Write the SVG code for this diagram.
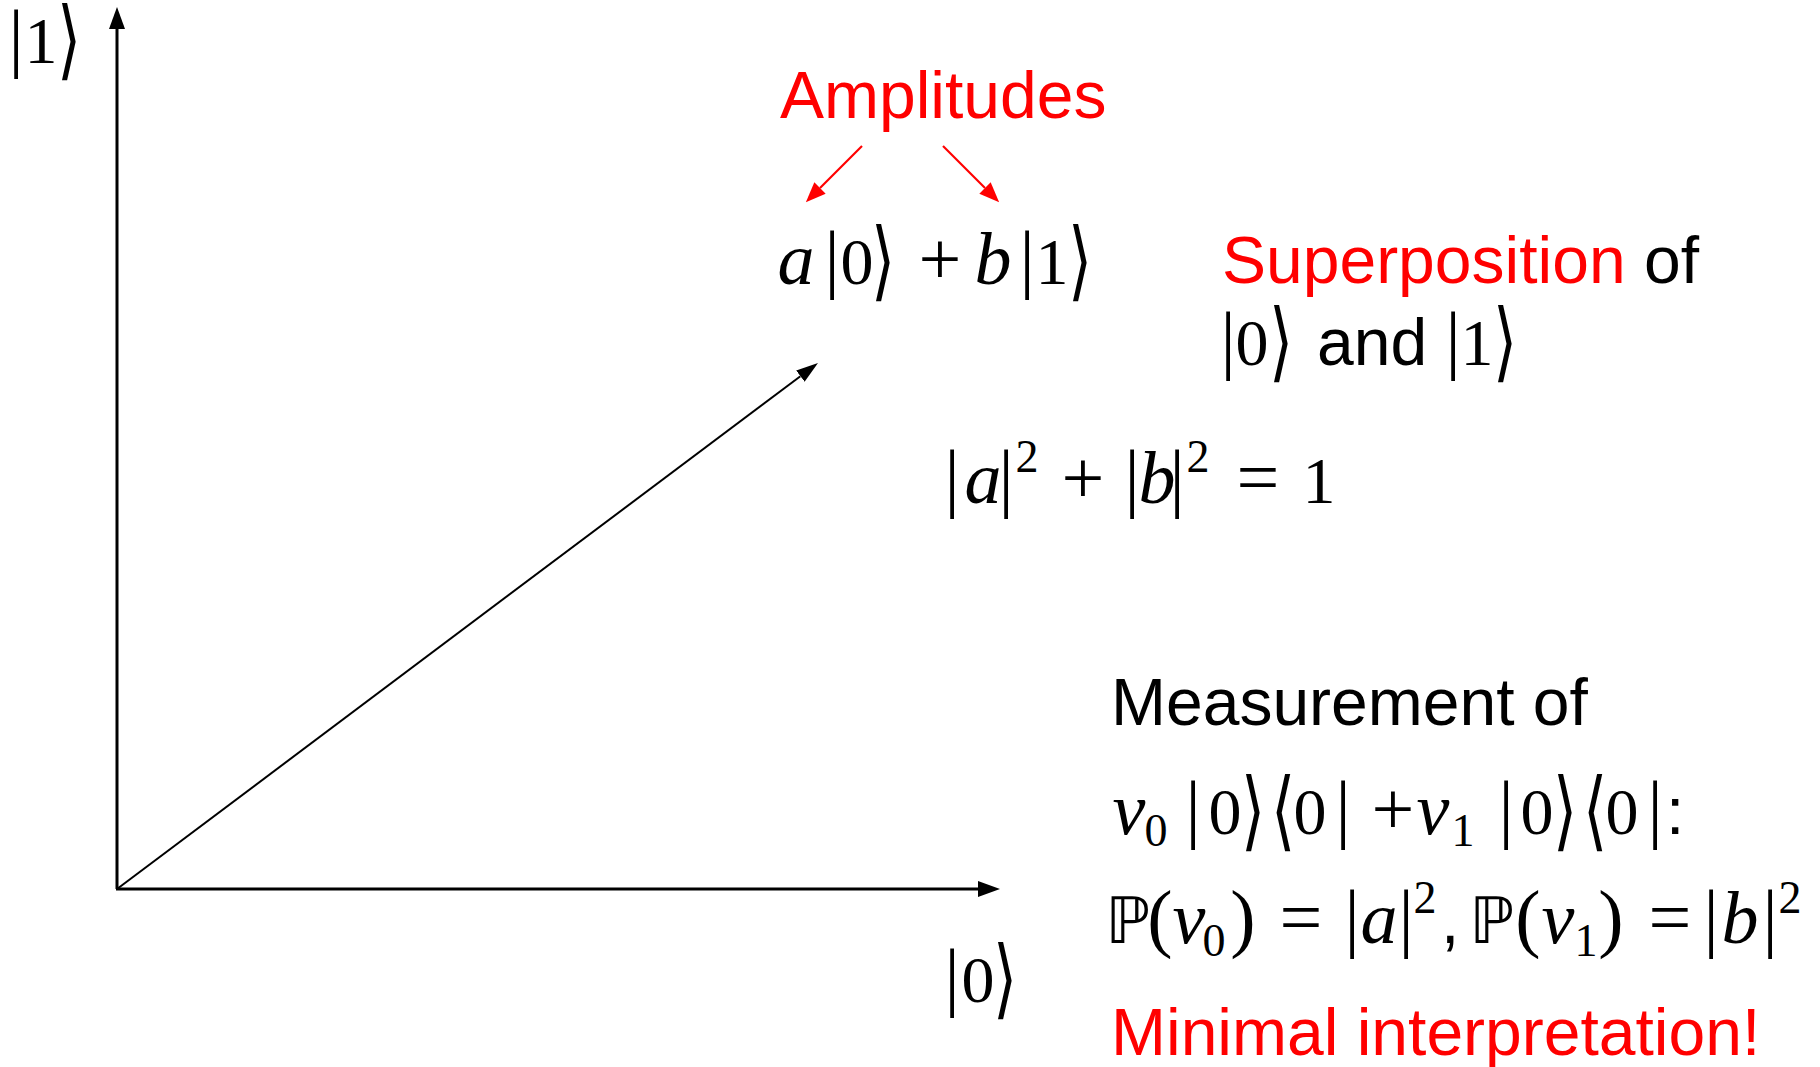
<svg xmlns="http://www.w3.org/2000/svg" width="1820" height="1067" viewBox="0 0 1820 1067">
<style>
.m{font-family:"Liberation Serif","DejaVu Serif",serif;font-size:66px;fill:#000;text-anchor:middle}
.i{font-style:italic;font-size:74px}
.s{font-size:46px}
.bar{font-size:76px}
.op{font-size:76px}
.par{font-size:76px}
.br{font-family:"DejaVu Sans","Liberation Serif",serif;font-size:62px}
.bb{font-family:"DejaVu Sans",serif;font-size:64px}
.t{font-family:"Liberation Sans",Arial,sans-serif;font-size:66px;fill:#000}
.red{fill:#ff0000}
.ax{stroke:#000;stroke-width:3;fill:none}
.vec{stroke:#000;stroke-width:2;fill:none}
.ra{stroke:#ff0000;stroke-width:2.2;fill:none}
</style>
<defs>
<marker id="ah" viewBox="0 0 22 16" refX="0" refY="8" markerWidth="22" markerHeight="16" markerUnits="userSpaceOnUse" orient="auto"><path d="M0,0 L22,8 L0,16 z" fill="#000"/></marker>
<marker id="ahv" viewBox="0 0 22 14" refX="0" refY="7" markerWidth="22" markerHeight="14" markerUnits="userSpaceOnUse" orient="auto"><path d="M0,0 L22,7 L0,14 z" fill="#000"/></marker>
<marker id="ahr" viewBox="0 0 20 16" refX="0" refY="8" markerWidth="20" markerHeight="16" markerUnits="userSpaceOnUse" orient="auto"><path d="M0,0 L20,8 L0,16 z" fill="#ff0000"/></marker>
</defs>
<g id="connectors">
<line class="ax" x1="117" y1="889" x2="117" y2="29" marker-end="url(#ah)"/>
<line class="ax" x1="116" y1="889" x2="978" y2="889" marker-end="url(#ah)"/>
<line class="vec" x1="117" y1="889" x2="800.4" y2="376.2" marker-end="url(#ahv)"/>
<line class="ra" x1="862" y1="146" x2="820" y2="188" marker-end="url(#ahr)"/>
<line class="ra" x1="943" y1="146" x2="985" y2="188" marker-end="url(#ahr)"/>
</g>
<g id="label-ket1">
<text class="m bar" x="16" y="63">|</text>
<text class="m" x="41" y="63">1</text>
<text class="m br" transform="matrix(1 0 0 1.4 69 69)">⟩</text>
</g>
<g id="label-ket0">
<text class="m bar" x="952" y="1002">|</text>
<text class="m" x="978" y="1002">0</text>
<text class="m br" transform="matrix(1 0 0 1.4 1005 1008)">⟩</text>
</g>
<g id="amplitudes">
<text class="t red" x="780" y="118">Amplitudes</text>
</g>
<g id="state">
<text class="m i" x="796" y="284">a</text>
<text class="m bar" x="832" y="284">|</text>
<text class="m" x="857" y="284">0</text>
<text class="m br" transform="matrix(1 0 0 1.4 883 290)">⟩</text>
<text class="m op" x="940" y="284">+</text>
<text class="m i" x="993" y="284">b</text>
<text class="m bar" x="1027" y="284">|</text>
<text class="m" x="1052" y="284">1</text>
<text class="m br" transform="matrix(1 0 0 1.4 1080 290)">⟩</text>
</g>
<g id="superposition">
<text class="t" x="1222" y="283"><tspan class="red">Superposition</tspan> of</text>
<text class="m bar" x="1228" y="365">|</text>
<text class="m" x="1252" y="365">0</text>
<text class="m br" transform="matrix(1 0 0 1.4 1281 371)">⟩</text>
<text class="t" x="1317" y="365">and</text>
<text class="m bar" x="1453" y="365">|</text>
<text class="m" x="1477" y="365">1</text>
<text class="m br" transform="matrix(1 0 0 1.4 1505 371)">⟩</text>
</g>
<g id="normalization">
<text class="m bar" x="952" y="503">|</text>
<text class="m i" x="983" y="503">a</text>
<text class="m bar" x="1006" y="503">|</text>
<text class="m s" x="1027" y="472">2</text>
<text class="m op" x="1083" y="503">+</text>
<text class="m bar" x="1132" y="503">|</text>
<text class="m i" x="1157" y="503">b</text>
<text class="m bar" x="1177" y="503">|</text>
<text class="m s" x="1198" y="472">2</text>
<text class="m op" x="1258" y="503">=</text>
<text class="m" x="1319" y="503">1</text>
</g>
<g id="measurement">
<text class="t" x="1111" y="725">Measurement of</text>
<text class="m i" x="1129" y="834">v</text>
<text class="m s" x="1156" y="846">0</text>
<text class="m bar" x="1193" y="834">|</text>
<text class="m" x="1225" y="834">0</text>
<text class="m br" transform="matrix(1 0 0 1.4 1253 840)">⟩</text>
<text class="m br" transform="matrix(1 0 0 1.4 1283 840)">⟨</text>
<text class="m" x="1310" y="834">0</text>
<text class="m bar" x="1343" y="834">|</text>
<text class="m op" x="1393" y="834">+</text>
<text class="m i" x="1433" y="834">v</text>
<text class="m s" x="1463" y="846">1</text>
<text class="m bar" x="1506" y="834">|</text>
<text class="m" x="1537" y="834">0</text>
<text class="m br" transform="matrix(1 0 0 1.4 1565 840)">⟩</text>
<text class="m br" transform="matrix(1 0 0 1.4 1595 840)">⟨</text>
<text class="m" x="1622" y="834">0</text>
<text class="m bar" x="1655" y="834">|</text>
<text class="t" x="1666" y="834">:</text>
<text class="m bb" x="1128" y="943">ℙ</text>
<text class="m par" x="1160" y="943">(</text>
<text class="m i" x="1189" y="943">v</text>
<text class="m s" x="1214" y="956">0</text>
<text class="m par" x="1243" y="943">)</text>
<text class="m op" x="1301" y="943">=</text>
<text class="m bar" x="1352" y="943">|</text>
<text class="m i" x="1379" y="943">a</text>
<text class="m bar" x="1406" y="943">|</text>
<text class="m s" x="1425" y="913">2</text>
<text class="t" x="1441" y="943">,</text>
<text class="m bb" x="1492" y="943">ℙ</text>
<text class="m par" x="1528" y="943">(</text>
<text class="m i" x="1558" y="943">v</text>
<text class="m s" x="1586" y="956">1</text>
<text class="m par" x="1611" y="943">)</text>
<text class="m op" x="1670" y="943">=</text>
<text class="m bar" x="1711" y="943">|</text>
<text class="m i" x="1740" y="943">b</text>
<text class="m bar" x="1770" y="943">|</text>
<text class="m s" x="1790" y="913">2</text>
</g>
<g id="conclusion">
<text class="t red" x="1111" y="1055">Minimal interpretation!</text>
</g>
</svg>
